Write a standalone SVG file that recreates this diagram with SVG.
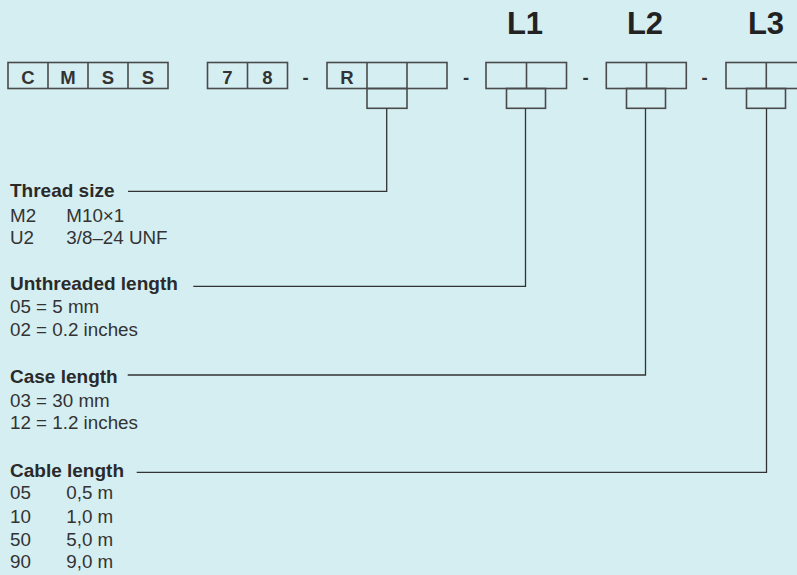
<svg xmlns="http://www.w3.org/2000/svg" width="797" height="575" viewBox="0 0 797 575">
  <style>
    .cell { fill: none; stroke: #4a4a4a; stroke-width: 1.6; }
    .ch { font-family: "Liberation Sans", Arial, sans-serif; font-weight: bold; font-size: 18.5px; fill: #333; text-anchor: middle; }
    .lbl { font-family: "Liberation Sans", Arial, sans-serif; font-weight: bold; font-size: 31px; fill: #222; text-anchor: middle; }
    .head { font-family: "Liberation Sans", Arial, sans-serif; font-weight: bold; font-size: 19px; fill: #2a2a2a; }
    .val { font-family: "Liberation Sans", Arial, sans-serif; font-size: 18.8px; fill: #333; }
    .wire { fill: none; stroke: #333; stroke-width: 1.3; }
  </style>
  <rect width="797" height="575" fill="#d5eef2"/>

  <!-- column labels -->
  <g id="labels">
    <text class="lbl" x="525" y="34">L1</text>
    <text class="lbl" x="645" y="34">L2</text>
    <text class="lbl" x="766" y="34">L3</text>
  </g>

  <!-- fixed prefix CMSS -->
  <g id="prefix">
    <rect class="cell" x="8" y="62.5" width="160" height="26"/>
    <path class="cell" d="M48 62.5V88.5M88 62.5V88.5M128 62.5V88.5"/>
    <text class="ch" x="28" y="83.7">C</text>
    <text class="ch" x="68" y="83.7">M</text>
    <text class="ch" x="108" y="83.7">S</text>
    <text class="ch" x="148" y="83.7">S</text>
  </g>

  <!-- series 78 -->
  <g id="series">
    <rect class="cell" x="207.5" y="62.5" width="80" height="26"/>
    <path class="cell" d="M247.5 62.5V88.5"/>
    <text class="ch" x="227.5" y="83.7">7</text>
    <text class="ch" x="267.5" y="83.7">8</text>
  </g>

  <!-- separators -->
  <g id="dashes">
    <text class="ch" x="305.5" y="83.5">-</text>
    <text class="ch" x="466" y="83.5">-</text>
    <text class="ch" x="585.5" y="83.5">-</text>
    <text class="ch" x="704.5" y="83.5">-</text>
  </g>

  <!-- thread code R__ -->
  <g id="thread">
    <rect class="cell" x="327" y="62.5" width="120" height="26"/>
    <path class="cell" d="M367 62.5V88.5M407 62.5V88.5"/>
    <rect class="cell" x="367" y="88.5" width="40" height="19.8"/>
    <text class="ch" x="347" y="83.7">R</text>
  </g>

  <!-- L1 -->
  <g id="l1">
    <rect class="cell" x="486" y="62.5" width="80.5" height="26"/>
    <path class="cell" d="M526.5 62.5V88.5"/>
    <rect class="cell" x="506.5" y="88.5" width="39" height="19.8"/>
  </g>

  <!-- L2 -->
  <g id="l2">
    <rect class="cell" x="606.3" y="62.5" width="80" height="26"/>
    <path class="cell" d="M646.5 62.5V88.5"/>
    <rect class="cell" x="626.5" y="88.5" width="39" height="19.8"/>
  </g>

  <!-- L3 -->
  <g id="l3">
    <rect class="cell" x="726" y="62.5" width="80" height="26"/>
    <path class="cell" d="M766.3 62.5V88.5"/>
    <rect class="cell" x="746.5" y="88.5" width="39" height="19.8"/>
  </g>

  <!-- leader lines -->
  <g id="connectors">
    <path class="wire" d="M128 191.3H386.7V108.3"/>
    <path class="wire" d="M193.3 286.3H525.5V108.3"/>
    <path class="wire" d="M127.7 375H645.5V108.3"/>
    <path class="wire" d="M136.7 472.3H766.5V108.3"/>
  </g>

  <!-- legends -->
  <g id="legend-thread">
    <text class="head" x="10" y="196.7">Thread size</text>
    <text class="val" x="10" y="221.7">M2</text>
    <text class="val" x="66.3" y="221.7">M10×1</text>
    <text class="val" x="10" y="244.3">U2</text>
    <text class="val" x="66.3" y="244.3">3/8–24 UNF</text>
  </g>
  <g id="legend-unthreaded">
    <text class="head" x="10" y="290">Unthreaded length</text>
    <text class="val" x="10" y="313.3">05 = 5 mm</text>
    <text class="val" x="10" y="335.7">02 = 0.2 inches</text>
  </g>
  <g id="legend-case">
    <text class="head" x="10" y="383.3">Case length</text>
    <text class="val" x="10" y="406.7">03 = 30 mm</text>
    <text class="val" x="10" y="429.3">12 = 1.2 inches</text>
  </g>
  <g id="legend-cable">
    <text class="head" x="10" y="476.7">Cable length</text>
    <text class="val" x="10" y="499.3">05</text>
    <text class="val" x="66.3" y="499.3">0,5 m</text>
    <text class="val" x="10" y="522.7">10</text>
    <text class="val" x="66.3" y="522.7">1,0 m</text>
    <text class="val" x="10" y="545.7">50</text>
    <text class="val" x="66.3" y="545.7">5,0 m</text>
    <text class="val" x="10" y="568.3">90</text>
    <text class="val" x="66.3" y="568.3">9,0 m</text>
  </g>
</svg>
